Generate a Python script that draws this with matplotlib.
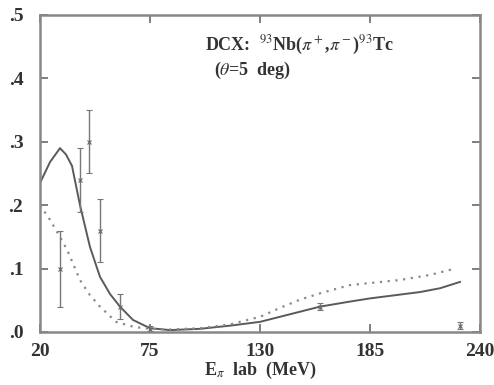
import matplotlib
matplotlib.use("Agg")
import matplotlib.pyplot as plt

# Solid curve
solid_x = [20, 25, 30, 33, 36, 40, 45, 50, 55, 60, 66.5, 75, 85, 100, 115, 130, 145, 160, 175, 185, 200, 210, 220, 230]
solid_y = [0.235, 0.268, 0.290, 0.280, 0.262, 0.200, 0.134, 0.087, 0.060, 0.040, 0.019, 0.006, 0.003, 0.005, 0.010, 0.016, 0.028, 0.040, 0.048, 0.053, 0.059, 0.063, 0.069, 0.079]

# Dotted curve
dot_x = [20, 25, 30, 33.5, 40, 45, 50, 58, 67, 75, 85, 100, 115, 130, 141.5, 150, 160, 175, 200, 215, 227.5]
dot_y = [0.200, 0.177, 0.150, 0.130, 0.082, 0.058, 0.040, 0.016, 0.008, 0.005, 0.004, 0.006, 0.012, 0.024, 0.040, 0.051, 0.061, 0.074, 0.082, 0.090, 0.100]

# Data points
pt_x = [30, 40, 44.5, 50, 60, 75, 160, 230]
pt_y = [0.10, 0.24, 0.30, 0.16, 0.04, 0.005, 0.040, 0.010]
pt_err = [0.06, 0.05, 0.05, 0.05, 0.02, 0.004, 0.005, 0.005]

x_ticks = [20, 75, 130, 185, 240]
x_labels = ["20", "75", "130", "185", "240"]
y_ticks = [0.0, 0.1, 0.2, 0.3, 0.4, 0.5]
y_labels = [".0", ".1", ".2", ".3", ".4", ".5"]

plt.rcParams['font.family'] = ['Liberation Serif', 'DejaVu Serif']
plt.rcParams['mathtext.fontset'] = 'stix'

fig = plt.figure(figsize=(4.94, 3.85), dpi=100)
ax = fig.add_axes([40/494, 1-332/385, 440/494, 317/385])

gray = '#6a6a6a'
ax.plot(solid_x, solid_y, color='#5a5a5a', lw=1.4)
ax.plot(dot_x, dot_y, color='#8a8a8a', lw=1.6, linestyle=(0, (1, 2.5)))
ax.errorbar(pt_x, pt_y, yerr=pt_err, fmt='x', ms=3, color='#666666', ecolor='#777777',
            elinewidth=1.0, capsize=2.5, capthick=1.0, mew=0.8)

ax.set_xlim(20, 240)
ax.set_ylim(0, 0.5)
ax.set_xticks(x_ticks)
ax.set_xticklabels(x_labels)
ax.set_yticks(y_ticks)
ax.set_yticklabels(y_labels)
ax.tick_params(direction='in', length=6, width=1.2, color=gray, labelsize=14,
               labelcolor='#333333', top=True, right=True)
ax.tick_params(axis='x', pad=8)
ax.tick_params(axis='y', pad=12)
for lab in ax.get_xticklabels() + ax.get_yticklabels():
    lab.set_fontweight('bold')
for s in ax.spines.values():
    s.set_color('#888888')
    s.set_linewidth(1.8)

ax.text(0.375, 0.905, r"DCX:  $^{93}$Nb($\pi^+$,$\pi^-$)$^{93}$Tc", transform=ax.transAxes,
        fontsize=13, color='#333333', fontweight='bold', va='center')
ax.text(0.395, 0.825, r"($\theta$=5  deg)", transform=ax.transAxes,
        fontsize=13, color='#333333', fontweight='bold', va='center')

ax.set_xlabel(r"E$_\pi$  lab  (MeV)", fontsize=13, color='#333333', labelpad=0, fontweight='bold')

fig.savefig("out.png", dpi=100)
